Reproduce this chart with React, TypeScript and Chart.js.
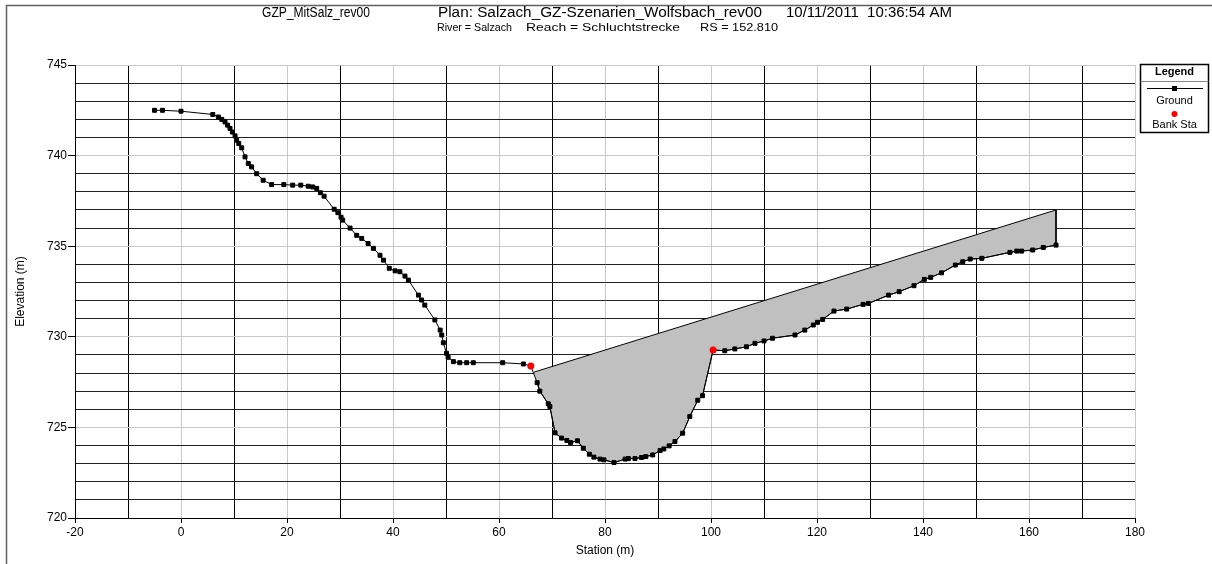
import React, { useEffect, useRef } from 'react';
import { Chart, registerables } from 'chart.js';
Chart.register(...registerables);

// ---- Data ----
const groundX = [-5.0, -3.5, 0.0, 6.0, 7.05, 7.7, 8.3, 8.8, 9.25, 9.7, 10.2, 10.5, 10.9, 11.45, 12.08, 12.7, 13.3, 14.28, 15.5, 17.1, 19.4, 21.07, 22.6, 24.0, 24.85, 25.6, 26.3, 27.0, 28.9, 29.6, 30.2, 30.5, 31.9, 33.15, 34.1, 35.3, 36.3, 37.55, 38.2, 39.3, 40.4, 41.3, 42.26, 42.9, 44.8, 45.4, 46.0, 47.9, 48.9, 49.2, 49.5, 50.1, 50.4, 51.4, 52.6, 53.9, 55.15, 60.7, 64.6, 66.0, 67.2, 67.7, 69.3, 69.6, 70.57, 71.8, 72.8, 73.5, 74.8, 75.9, 77.05, 77.9, 79.06, 79.8, 81.7, 83.8, 84.4, 85.66, 86.9, 87.7, 89.0, 90.4, 91.1, 92.1, 93.2, 94.65, 96.0, 97.5, 98.4, 100.4, 102.6, 104.5, 106.7, 108.3, 110.0, 111.6, 115.85, 117.7, 119.3, 120.1, 121.07, 123.2, 125.6, 128.7, 129.7, 133.5, 135.5, 138.3, 140.25, 141.45, 143.5, 146.1, 147.5, 148.9, 151.1, 156.4, 157.7, 158.6, 160.7, 162.7, 165.1];
const groundY = [742.5, 742.5, 742.45, 742.27, 742.13, 742.0, 741.86, 741.68, 741.5, 741.3, 741.09, 740.85, 740.67, 740.43, 739.93, 739.56, 739.38, 739.0, 738.64, 738.4, 738.4, 738.37, 738.37, 738.31, 738.27, 738.19, 737.95, 737.76, 737.04, 736.85, 736.6, 736.44, 736.0, 735.6, 735.43, 735.15, 734.88, 734.5, 734.23, 733.78, 733.64, 733.59, 733.35, 733.13, 732.3, 732.03, 731.75, 730.93, 730.37, 730.1, 729.67, 729.09, 728.87, 728.63, 728.57, 728.57, 728.57, 728.57, 728.5, 728.39, 727.47, 727.0, 726.3, 726.15, 724.7, 724.41, 724.28, 724.16, 724.26, 723.85, 723.52, 723.36, 723.25, 723.21, 723.06, 723.25, 723.28, 723.28, 723.34, 723.39, 723.48, 723.72, 723.81, 723.98, 724.22, 724.68, 725.6, 726.5, 726.75, 729.27, 729.23, 729.33, 729.45, 729.64, 729.77, 729.92, 730.1, 730.37, 730.65, 730.8, 730.96, 731.42, 731.53, 731.79, 731.84, 732.3, 732.49, 732.82, 733.17, 733.28, 733.53, 733.96, 734.14, 734.29, 734.33, 734.66, 734.73, 734.73, 734.79, 734.93, 735.06];
const bankX = [66.0, 100.4];
const bankY = [728.39, 729.27];
const fillTopX = [66.6, 165.1];
const fillTopY = [728.05, 737.0];

const xMin = -20, xMax = 180, xStep = 10, xLabelStep = 20;
const yMin = 720, yMax = 745, yStep = 1, yLabelStep = 5;

const titleLine1 = ['GZP_MitSalz_rev00', 'Plan: Salzach_GZ-Szenarien_Wolfsbach_rev00', '10/11/2011  10:36:54 AM'];
const titleLine2 = ['River = Salzach', 'Reach = Schluchtstrecke', 'RS = 152.810'];
const xTitle = 'Station (m)';
const yTitle = 'Elevation (m)';
const legendTitle = 'Legend';
const legendNames = ['Ground', 'Bank Sta'];

const FONT = '"Liberation Sans", Arial, sans-serif';

function drawFit(ctx: CanvasRenderingContext2D, text: string, x0: number, x1: number, y: number) {
  const w = ctx.measureText(text).width;
  const s = (x1 - x0) / w;
  ctx.save();
  ctx.translate(x0, y);
  ctx.scale(s, 1);
  ctx.textAlign = 'left';
  ctx.fillText(text, 0, 0);
  ctx.restore();
}

const decorPlugin = {
  id: 'decor',
  beforeDraw(chart: any) {
    const ctx = chart.ctx as CanvasRenderingContext2D;
    ctx.save();
    ctx.fillStyle = '#fff';
    ctx.fillRect(0, 0, chart.width, chart.height);
    ctx.strokeStyle = '#606060';
    ctx.lineWidth = 1.5;
    ctx.beginPath();
    ctx.moveTo(6.5, chart.height);
    ctx.lineTo(6.5, 5.5);
    ctx.lineTo(chart.width, 5.5);
    ctx.stroke();
    ctx.restore();
  },
  afterDraw(chart: any) {
    const ctx = chart.ctx as CanvasRenderingContext2D;
    const area = chart.chartArea;
    ctx.save();
    ctx.fillStyle = '#000';
    ctx.textBaseline = 'middle';
    // titles
    ctx.font = `14px ${FONT}`;
    const l1 = [[262, 370], [438, 762], [786, 952]];
    titleLine1.forEach((t, i) => drawFit(ctx, t, l1[i][0], l1[i][1], 13));
    ctx.font = `11px ${FONT}`;
    const l2 = [[437, 512], [526, 680], [700, 778]];
    titleLine2.forEach((t, i) => drawFit(ctx, t, l2[i][0], l2[i][1], 28));
    // axis titles
    ctx.font = `12px ${FONT}`;
    ctx.textAlign = 'center';
    ctx.fillText(xTitle, (area.left + area.right) / 2, 551);
    ctx.save();
    ctx.translate(21, (area.top + area.bottom) / 2);
    ctx.rotate(-Math.PI / 2);
    ctx.fillText(yTitle, 0, 0);
    ctx.restore();
    // legend box
    const lx = 1140.5, ly = 64.5, lw = 68, lh = 68;
    ctx.strokeStyle = '#000';
    ctx.lineWidth = 1.5;
    ctx.strokeRect(lx, ly, lw, lh);
    ctx.lineWidth = 1;
    ctx.strokeStyle = '#888';
    ctx.beginPath();
    ctx.moveTo(lx, 81.5);
    ctx.lineTo(lx + lw, 81.5);
    ctx.stroke();
    ctx.font = `bold 11px ${FONT}`;
    ctx.fillText(legendTitle, lx + lw / 2, 72);
    const cx = lx + lw / 2;
    ctx.strokeStyle = '#000';
    ctx.beginPath();
    ctx.moveTo(1147, 88.5);
    ctx.lineTo(1203, 88.5);
    ctx.stroke();
    ctx.fillRect(cx - 2.5, 86, 5, 5);
    ctx.font = `11px ${FONT}`;
    ctx.fillText(legendNames[0], cx, 101);
    ctx.fillStyle = '#ff0000';
    ctx.beginPath();
    ctx.arc(cx, 114, 3, 0, Math.PI * 2);
    ctx.fill();
    ctx.fillStyle = '#000';
    ctx.fillText(legendNames[1], cx, 125);
    ctx.restore();
  },
};

export default function App() {
  const ref = useRef<HTMLCanvasElement>(null);
  useEffect(() => {
    const ground = groundX.map((x, i) => ({ x, y: groundY[i] }));
    const bank = bankX.map((x, i) => ({ x, y: bankY[i] }));
    const poly = [
      { x: fillTopX[0], y: fillTopY[0] },
      { x: fillTopX[1], y: fillTopY[1] },
      ...ground.filter((p) => p.x > fillTopX[0]).reverse(),
    ];
    const chart = new Chart(ref.current!, {
      type: 'line',
      data: {
        datasets: [
          {
            label: 'fill',
            data: poly,
            fill: 'shape',
            backgroundColor: '#c0c0c0',
            borderColor: '#000',
            borderWidth: 1,
            pointRadius: 0,
            tension: 0,
            order: 3,
          } as any,
          {
            label: legendNames[0],
            data: ground,
            borderColor: '#000',
            borderWidth: 1,
            pointStyle: 'rect',
            pointRadius: 2.8,
            pointBorderWidth: 1,
            pointBackgroundColor: '#000',
            pointBorderColor: '#000',
            fill: false,
            tension: 0,
            order: 2,
          },
          {
            label: legendNames[1],
            data: bank,
            showLine: false,
            pointStyle: 'circle',
            pointRadius: 3.5,
            pointBorderWidth: 0,
            pointBackgroundColor: '#ff0000',
            pointBorderColor: '#ff0000',
            fill: false,
            order: 1,
          },
        ],
      },
      options: {
        animation: false,
        responsive: false,
        events: [],
        layout: { padding: { left: 0, top: 65, right: 77, bottom: 0 } },
        plugins: { legend: { display: false }, title: { display: false }, tooltip: { enabled: false } },
        scales: {
          x: {
            type: 'linear',
            min: xMin,
            max: xMax,
            afterFit: (s: any) => { s.height = 46; },
            border: { display: true, color: '#000', width: 1 },
            grid: {
              color: (c: any) => (c.tick && Math.round(c.tick.value) % xLabelStep === 0 ? '#c8c8c8' : '#000'),
              tickColor: (c: any) => (c.tick && Math.round(c.tick.value) % xLabelStep === 0 ? '#000' : 'rgba(0,0,0,0)'),
              tickLength: 5,
              lineWidth: 1,
            },
            ticks: {
              stepSize: xStep,
              autoSkip: false,
              maxRotation: 0,
              padding: 2,
              color: '#000',
              font: { family: FONT, size: 12 },
              callback: (v: any) => (Math.round(v) % xLabelStep === 0 ? String(v) : ''),
            },
          },
          y: {
            type: 'linear',
            min: yMin,
            max: yMax,
            afterFit: (s: any) => { s.width = 75; },
            border: { display: true, color: '#000', width: 1 },
            grid: {
              color: (c: any) => (c.tick && Math.round(c.tick.value) % yLabelStep === 0 ? '#c8c8c8' : '#222'),
              tickColor: (c: any) => (c.tick && Math.round(c.tick.value) % yLabelStep === 0 ? '#000' : 'rgba(0,0,0,0)'),
              tickLength: 7,
              lineWidth: 1,
            },
            ticks: {
              stepSize: yStep,
              autoSkip: false,
              padding: 1,
              color: '#000',
              font: { family: FONT, size: 12 },
              callback: (v: any) => (Math.round(v) % yLabelStep === 0 ? String(v) : ''),
            },
          },
        },
      },
      plugins: [decorPlugin],
    });
    return () => chart.destroy();
  }, []);
  return (
    <div style={{ position: 'fixed', left: 0, top: 0, width: 1212, height: 564, background: '#fff' }}>
      <canvas ref={ref} width={1212} height={564} style={{ display: 'block' }} />
    </div>
  );
}
